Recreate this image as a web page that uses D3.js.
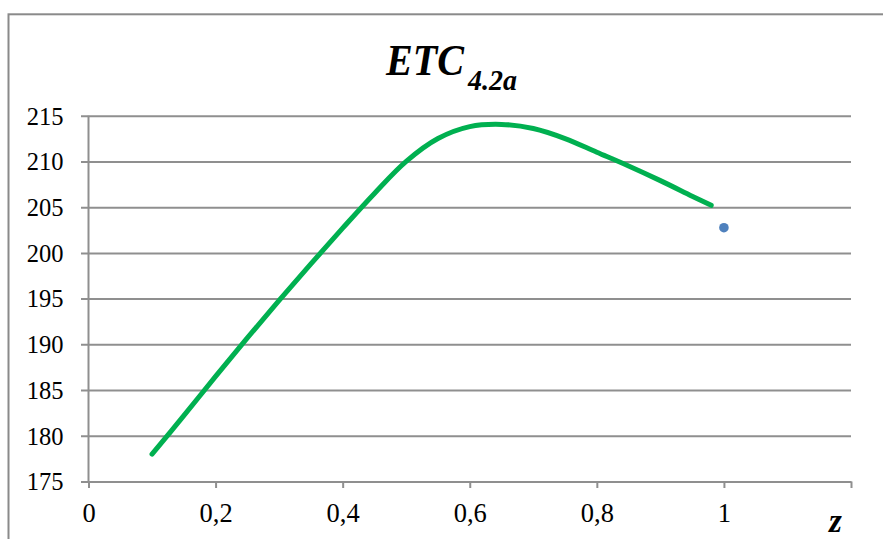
<!DOCTYPE html>
<html>
<head>
<meta charset="utf-8">
<script src="https://cdn.jsdelivr.net/npm/d3@7"></script>
<style>
  html, body { margin: 0; padding: 0; background: #fff; }
  svg { display: block; }
  text { font-family: "Liberation Serif", "Times New Roman", serif; fill: #000; }
</style>
</head>
<body>
<svg id="chart" width="883" height="539"></svg>
<script>
// ---- data ----
const zValues   = [0.10, 0.15, 0.20, 0.25, 0.30, 0.35, 0.40, 0.45, 0.50, 0.55, 0.60, 0.65, 0.70, 0.75, 0.80, 0.85, 0.90, 0.95, 0.98];
const etcValues = [178.0, 182.2, 186.5, 190.7, 194.8, 198.8, 202.7, 206.5, 210.0, 212.5, 213.8, 214.05, 213.6, 212.5, 211.0, 209.5, 207.9, 206.2, 205.2];
const pointZ = [1.0];
const pointEtc = [202.75];
const yTicks = [175, 180, 185, 190, 195, 200, 205, 210, 215];
const xTicks = [0, 0.2, 0.4, 0.6, 0.8, 1.0, 1.2];
const xTickLabels = ["0", "0,2", "0,4", "0,6", "0,8", "1", ""];
const titleMain = "ETC";
const titleSub = "4.2a";
const xAxisTitle = "z";

(function () {
  const FONT = '"Liberation Serif", "Times New Roman", serif';
  const svg = d3.select("#chart");
  const pLeft = 88.5, pRight = 851, pTop = 115.7, pBottom = 481.5;
  const x = d3.scaleLinear().domain([0, 1.2]).range([pLeft, pRight]);
  const y = d3.scaleLinear().domain([175, 215]).range([pBottom, pTop]);
  const gridColor = "#8f8f8f";

  // chart border (extends beyond view on right/bottom)
  svg.append("rect")
    .attr("x", 8.5).attr("y", 14.3)
    .attr("width", 1000).attr("height", 1000)
    .attr("fill", "none").attr("stroke", "#8a8a8a").attr("stroke-width", 2);

  // y gridlines + labels via axis placed at right edge
  const gridLeft = 81;
  const yAxis = d3.axisLeft(y).tickValues(yTicks)
    .tickSize(pRight - gridLeft).tickSizeOuter(0).tickPadding(17.5)
    .tickFormat(d => String(d));
  const gy = svg.append("g").attr("transform", `translate(${pRight},0)`).call(yAxis)
    .attr("font-family", FONT);
  gy.select(".domain").remove();
  gy.selectAll(".tick line").attr("stroke", gridColor).attr("stroke-width", 2);
  gy.selectAll(".tick text")
    .attr("dy", null).attr("y", 8.3)
    .style("font-family", FONT)
    .style("font-size", "24.5px").attr("fill", "#000");

  // y axis line
  svg.append("line")
    .attr("x1", x(0)).attr("x2", x(0))
    .attr("y1", y(215)).attr("y2", y(175))
    .attr("stroke", gridColor).attr("stroke-width", 2);

  // x axis
  const xAxis = d3.axisBottom(x).tickValues(xTicks)
    .tickSize(6.5).tickSizeOuter(0)
    .tickFormat((d, i) => xTickLabels[i]);
  const gx = svg.append("g").attr("transform", `translate(0,${pBottom})`).call(xAxis)
    .attr("font-family", FONT);
  gx.select(".domain").attr("stroke", gridColor).attr("stroke-width", 2);
  gx.selectAll(".tick line").attr("stroke", gridColor).attr("stroke-width", 2);
  gx.selectAll(".tick text")
    .attr("dy", null).attr("y", 40.2)
    .style("font-family", FONT)
    .style("font-size", "26.5px").attr("fill", "#000");

  // curve
  const lineData = zValues.map((z, i) => [z, etcValues[i]]);
  const line = d3.line().x(d => x(d[0])).y(d => y(d[1])).curve(d3.curveCatmullRom.alpha(0.5));
  svg.append("path")
    .datum(lineData)
    .attr("d", line)
    .attr("fill", "none")
    .attr("stroke", "#00b050")
    .attr("stroke-width", 5)
    .attr("stroke-linecap", "round")
    .attr("stroke-linejoin", "round");

  // single point
  svg.selectAll("circle.pt")
    .data(pointZ.map((z, i) => [z, pointEtc[i]]))
    .enter().append("circle")
    .attr("class", "pt")
    .attr("cx", d => x(d[0])).attr("cy", d => y(d[1]))
    .attr("r", 4.8).attr("fill", "#4f81bd");

  // title
  svg.append("text")
    .attr("x", 386).attr("y", 75)
    .attr("textLength", 78).attr("lengthAdjust", "spacingAndGlyphs")
    .style("font-family", FONT)
    .style("font-size", "45px").style("font-weight", "bold").style("font-style", "italic")
    .text(titleMain);
  svg.append("text")
    .attr("x", 468).attr("y", 90)
    .attr("textLength", 49).attr("lengthAdjust", "spacingAndGlyphs")
    .style("font-family", FONT)
    .style("font-size", "28.5px").style("font-weight", "bold").style("font-style", "italic")
    .text(titleSub);

  // x axis title
  svg.append("text")
    .attr("x", 835.5).attr("y", 532)
    .attr("text-anchor", "middle")
    .style("font-family", FONT)
    .style("font-size", "33px").style("font-weight", "bold").style("font-style", "italic")
    .text(xAxisTitle);
})();
</script>
</body>
</html>
